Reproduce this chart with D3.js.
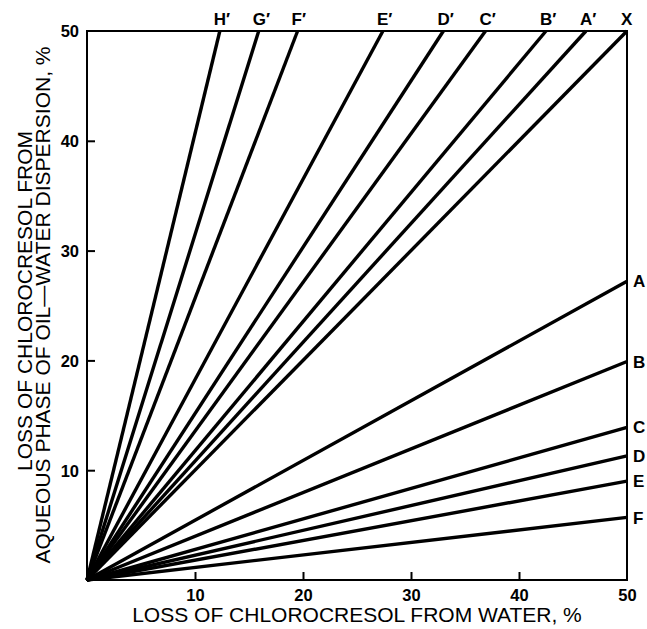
<!DOCTYPE html>
<html>
<head>
<meta charset="utf-8">
<script src="https://cdn.jsdelivr.net/npm/d3@7"></script>
<style>
  body { margin: 0; background: #fff; }
  svg { display: block; }
  text { font-family: "Liberation Sans", Arial, sans-serif; fill: #000; }
</style>
</head>
<body>
<svg id="svg-main"></svg>
<script>
// lines ending on the right edge (x = 50): loss at y
const RIGHT_LINES = ["A", "B", "C", "D", "E", "F"];
const RIGHT_VALUES = [27.2, 19.9, 13.9, 11.3, 9.0, 5.7];

// lines ending on the top edge (y = 50): loss at x
const TOP_LINES = ["H\u2032", "G\u2032", "F\u2032", "E\u2032", "D\u2032", "C\u2032", "B\u2032", "A\u2032", "X"];
const TOP_VALUES = [12.3, 15.9, 19.5, 27.4, 33.0, 36.9, 42.5, 46.2, 50];

const TICKS = [10, 20, 30, 40, 50];

const X_TITLE = "LOSS OF CHLOROCRESOL FROM WATER, %";
const Y_TITLE = ["LOSS OF CHLOROCRESOL FROM", "AQUEOUS PHASE OF OIL\u2014WATER DISPERSION, %"];

var Dims = {
    Width: 647,
    Height: 629,
    Margin: { Top: 31, Right: 20, Bottom: 49, Left: 87 }
};

var svg = d3.select("#svg-main")
    .attr("width", Dims.Width)
    .attr("height", Dims.Height);

var innerW = Dims.Width - Dims.Margin.Left - Dims.Margin.Right;
var innerH = Dims.Height - Dims.Margin.Top - Dims.Margin.Bottom;

var x = d3.scaleLinear().domain([0, 50]).range([0, innerW]);
var y = d3.scaleLinear().domain([0, 50]).range([innerH, 0]);

var g = svg.append("g")
    .attr("transform", `translate(${Dims.Margin.Left},${Dims.Margin.Top})`);

// fan of lines from origin
var lineData = RIGHT_LINES.map((n, i) => ({ name: n, x: 50, y: RIGHT_VALUES[i] }))
    .concat(TOP_LINES.map((n, i) => ({ name: n, x: TOP_VALUES[i], y: 50 })));

g.selectAll("line.ray")
    .data(lineData)
    .enter()
    .append("line")
    .attr("class", "ray")
    .attr("x1", x(0))
    .attr("y1", y(0))
    .attr("x2", d => x(d.x))
    .attr("y2", d => y(d.y))
    .attr("stroke", "#000")
    .attr("stroke-width", 3.4)
    .attr("stroke-linecap", "butt");

// frame
g.append("rect")
    .attr("x", 0).attr("y", 0)
    .attr("width", innerW).attr("height", innerH)
    .attr("fill", "none")
    .attr("stroke", "#000")
    .attr("stroke-width", 2);

// axes (ticks inward)
var xAxis = d3.axisBottom(x).tickValues(TICKS).tickSizeInner(-8).tickSizeOuter(0).tickPadding(9);
var yAxis = d3.axisLeft(y).tickValues(TICKS).tickSizeInner(-8).tickSizeOuter(0).tickPadding(8);

var gx = g.append("g").attr("transform", `translate(0,${innerH})`).call(xAxis);
var gy = g.append("g").call(yAxis);

[gx, gy].forEach(a => {
    a.select(".domain").remove();
    a.selectAll(".tick line")
        .attr("stroke", "#000")
        .attr("stroke-width", 2)
        .filter(d => d === 50).remove();
    a.selectAll(".tick text")
        .style("font-family", "'Liberation Sans', Arial, sans-serif")
        .style("font-weight", "bold")
        .style("font-size", "16.5px");
});
gy.selectAll(".tick text").attr("dy", "0.36em");

// line labels, right edge
g.selectAll("text.rlab")
    .data(lineData.filter(d => d.x === 50 && d.y < 50))
    .enter()
    .append("text")
    .attr("class", "rlab")
    .attr("x", x(50) + 6)
    .attr("y", d => y(d.y))
    .attr("dy", "0.36em")
    .style("font-weight", "bold")
    .style("font-size", "17px")
    .text(d => d.name);

// line labels, top edge
g.selectAll("text.tlab")
    .data(lineData.filter(d => d.y === 50))
    .enter()
    .append("text")
    .attr("class", "tlab")
    .attr("x", d => x(d.x) - 6)
    .attr("y", -6)
    .style("font-weight", "bold")
    .style("font-size", "17px")
    .text(d => d.name);

// axis titles
svg.append("text")
    .attr("x", 357)
    .attr("y", 622)
    .attr("text-anchor", "middle")
    .style("font-size", "21px")
    .text(X_TITLE);

svg.selectAll("text.ytitle")
    .data(Y_TITLE)
    .enter()
    .append("text")
    .attr("class", "ytitle")
    .attr("transform", (d, i) => `translate(${32 + i * 18},${301 + i * 4}) rotate(-90)`)
    .attr("text-anchor", "middle")
    .style("font-size", "21px")
    .text(d => d);
</script>
</body>
</html>
